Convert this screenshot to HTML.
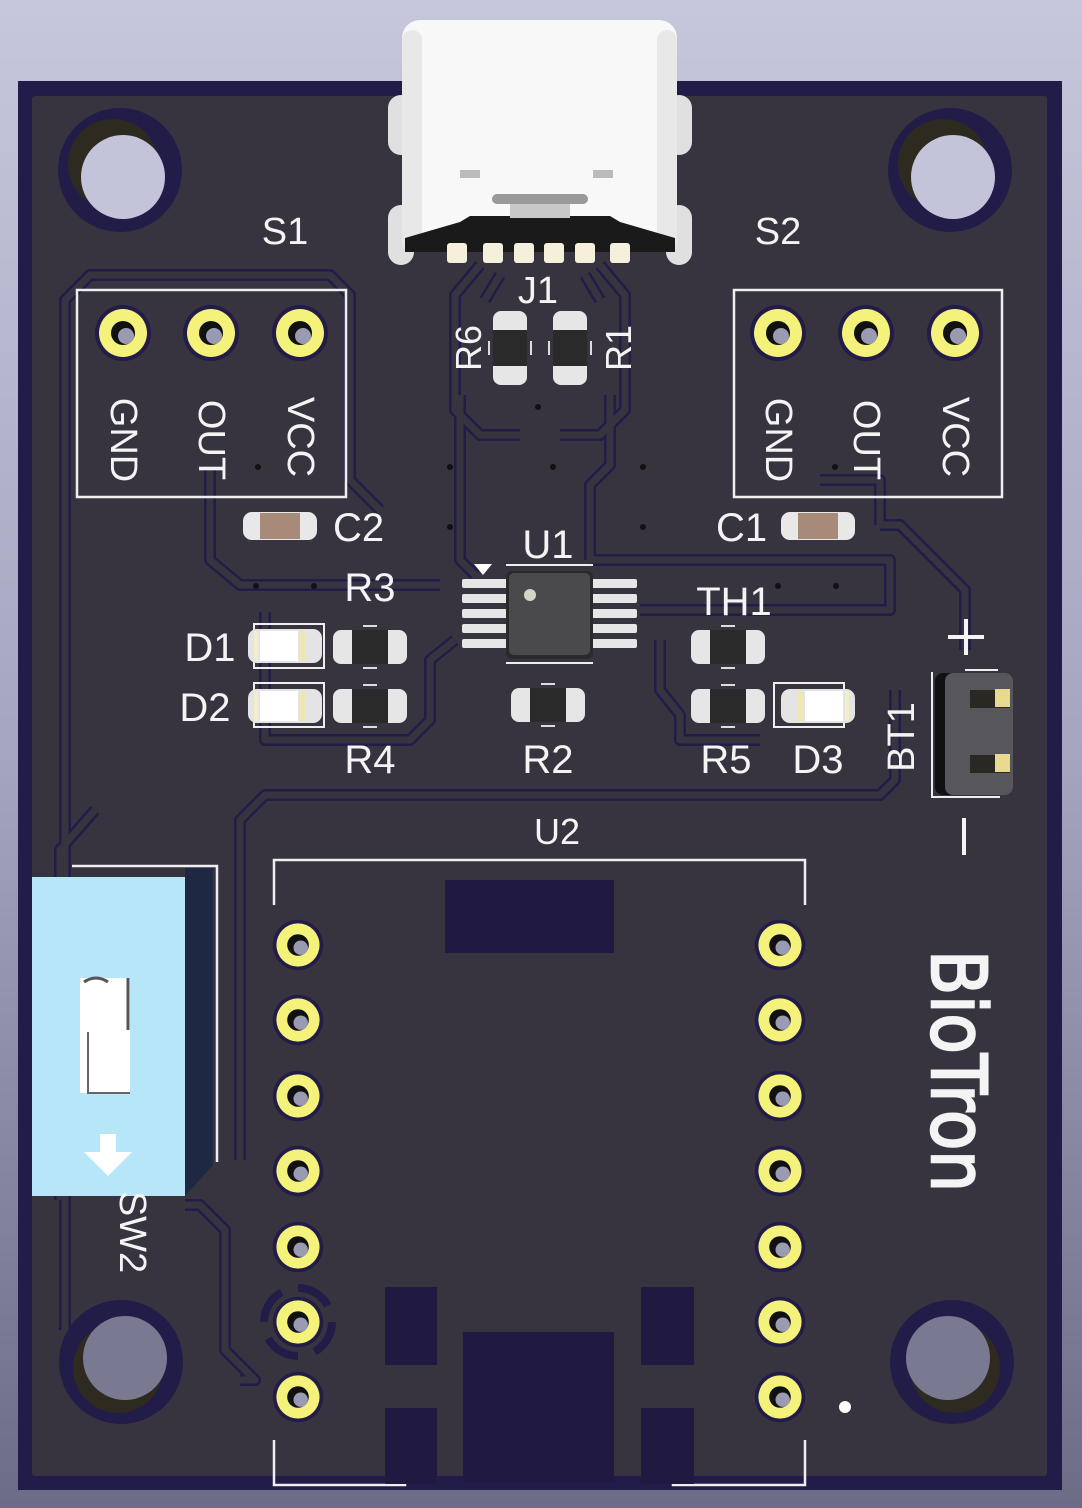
<!DOCTYPE html>
<html><head><meta charset="utf-8"><style>
html,body{margin:0;padding:0;width:1082px;height:1508px;overflow:hidden}
svg{display:block}
text{font-family:"Liberation Sans","DejaVu Sans",sans-serif;fill:#f4f4f4}
</style></head><body>
<svg width="1082" height="1508" viewBox="0 0 1082 1508" xmlns="http://www.w3.org/2000/svg">
<defs>
<linearGradient id="bg" x1="0" y1="0" x2="0" y2="1">
<stop offset="0" stop-color="#c6c6dc"/><stop offset="0.5" stop-color="#a5a5c0"/><stop offset="1" stop-color="#6c6c86"/>
</linearGradient>
<g id="res">
<rect x="-37" y="-17" width="74" height="34" rx="8" fill="#e6e6e6"/>
<rect x="-18" y="-17" width="36" height="34" fill="#2a2a2a"/>
<line x1="-7" y1="-21" x2="7" y2="-21" stroke="#ddd" stroke-width="2"/>
<line x1="-7" y1="21" x2="7" y2="21" stroke="#ddd" stroke-width="2"/>
</g>
<g id="cap">
<rect x="-37" y="-14" width="74" height="28" rx="9" fill="#e8e8e8"/>
<rect x="-20" y="-13" width="40" height="26" fill="#a88a78"/>
</g>
<g id="led">
<rect x="-37" y="-17" width="74" height="34" rx="9" fill="#e4e4e4"/>
<rect x="-25" y="-15" width="38" height="30" fill="#ffffff"/>
<rect x="-31" y="-15" width="4" height="30" fill="#f2efc8"/>
<rect x="14" y="-15" width="6" height="30" fill="#efe7b0"/>
</g>
<g id="th">
<circle r="28" fill="#221c48"/>
<circle r="24" fill="#f4f27a"/>
<circle r="12" fill="#111"/>
<circle cx="3" cy="3" r="8" fill="#9a9ab2"/>
</g>
</defs>
<rect width="1082" height="1508" fill="url(#bg)"/>
<rect x="18" y="81" width="1044" height="1409" fill="#221c48"/>
<rect x="32" y="96" width="1015" height="1380" rx="3" fill="#37343f"/>
<g fill="none" stroke-linejoin="round">
<g stroke="#221c48" stroke-width="12">
<path d="M65 1330 V300 L90 275 H330 L350 295 V480 L380 510"/>
<path d="M240 1380 H255 L225 1350 V1230 L200 1205 H185"/>
<path d="M240 1160 V820 L265 795 H880 L895 780 V690"/>
<path d="M210 470 V560 L240 585 H440"/>
<path d="M265 612 V740 H410 L430 720 V660 L455 640"/>
<path d="M460 395 V560 L475 575"/>
<path d="M610 395 V465 L590 485 V560"/>
<path d="M880 525 H900 L965 590 V650"/>
<path d="M590 560 H890 V610 H640"/>
<path d="M660 640 V690 L680 715 V740 H760"/>
<path d="M480 265 L455 295 V410 L480 435 H520"/>
<path d="M600 265 L625 295 V410 L600 435 H560"/>
<path d="M500 275 L485 300 M585 275 L600 300"/>
<path d="M820 480 H880 V525"/>
<path d="M60 1200 V850 L95 810"/>
</g>
<g stroke="#37343f" stroke-width="7">
<path d="M65 1330 V300 L90 275 H330 L350 295 V480 L380 510"/>
<path d="M240 1380 H255 L225 1350 V1230 L200 1205 H185"/>
<path d="M240 1160 V820 L265 795 H880 L895 780 V690"/>
<path d="M210 470 V560 L240 585 H440"/>
<path d="M265 612 V740 H410 L430 720 V660 L455 640"/>
<path d="M460 395 V560 L475 575"/>
<path d="M610 395 V465 L590 485 V560"/>
<path d="M880 525 H900 L965 590 V650"/>
<path d="M590 560 H890 V610 H640"/>
<path d="M660 640 V690 L680 715 V740 H760"/>
<path d="M480 265 L455 295 V410 L480 435 H520"/>
<path d="M600 265 L625 295 V410 L600 435 H560"/>
<path d="M500 275 L485 300 M585 275 L600 300"/>
<path d="M820 480 H880 V525"/>
<path d="M60 1200 V850 L95 810"/>
</g>
</g>
<g>
<circle cx="120" cy="170" r="62" fill="#221c48"/><circle cx="113" cy="164" r="45" fill="#2e2a20"/><circle cx="123" cy="177" r="42" fill="#c3c3da"/>
<circle cx="950" cy="170" r="62" fill="#221c48"/><circle cx="943" cy="164" r="45" fill="#2e2a20"/><circle cx="953" cy="177" r="42" fill="#c3c3da"/>
<circle cx="121" cy="1362" r="62" fill="#221c48"/><circle cx="118" cy="1368" r="45" fill="#2e2a20"/><circle cx="125" cy="1358" r="42" fill="#797991"/>
<circle cx="952" cy="1362" r="62" fill="#221c48"/><circle cx="955" cy="1368" r="45" fill="#2e2a20"/><circle cx="948" cy="1358" r="42" fill="#797991"/>
</g>
<g>
<rect x="388" y="95" width="26" height="60" rx="13" fill="#e0e0e0"/><rect x="666" y="95" width="26" height="60" rx="13" fill="#e0e0e0"/>
<rect x="388" y="205" width="26" height="60" rx="13" fill="#e0e0e0"/><rect x="666" y="205" width="26" height="60" rx="13" fill="#e0e0e0"/>
<rect x="402" y="20" width="275" height="232" rx="18" fill="#f8f8f8"/>
<rect x="402" y="30" width="20" height="222" rx="10" fill="#e8e8e8"/>
<rect x="657" y="30" width="20" height="222" rx="10" fill="#e8e8e8"/>
<path d="M405 238 L460 222 L470 216 H610 L620 222 L675 238 V252 H405 Z" fill="#1a1a1a"/>
<rect x="492" y="194" width="96" height="10" rx="5" fill="#999"/>
<rect x="510" y="204" width="60" height="14" fill="#c8c8c8"/>
<rect x="460" y="170" width="20" height="8" fill="#bbb"/><rect x="593" y="170" width="20" height="8" fill="#bbb"/>
<g fill="#f4f0dc">
<rect x="447" y="243" width="20" height="20" rx="3"/><rect x="483" y="243" width="20" height="20" rx="3"/>
<rect x="514" y="243" width="20" height="20" rx="3"/><rect x="544" y="243" width="20" height="20" rx="3"/>
<rect x="575" y="243" width="20" height="20" rx="3"/><rect x="610" y="243" width="20" height="20" rx="3"/>
</g>
</g>
<text x="538" y="303" font-size="38" text-anchor="middle">J1</text>
<use href="#res" transform="translate(510,348) rotate(90)"/>
<use href="#res" transform="translate(570,348) rotate(90)"/>
<text transform="translate(481,348) rotate(-90)" font-size="36" text-anchor="middle">R6</text>
<text transform="translate(631,348) rotate(-90)" font-size="36" text-anchor="middle">R1</text>
<text x="285" y="244" font-size="38" text-anchor="middle">S1</text>
<text x="778" y="244" font-size="38" text-anchor="middle">S2</text>
<rect x="77" y="290" width="269" height="207" fill="none" stroke="#eee" stroke-width="2.5"/>
<rect x="734" y="290" width="268" height="207" fill="none" stroke="#eee" stroke-width="2.5"/>
<use href="#th" transform="translate(123,333)"/><use href="#th" transform="translate(211,333)"/><use href="#th" transform="translate(300,333)"/>
<use href="#th" transform="translate(778,333)"/><use href="#th" transform="translate(866,333)"/><use href="#th" transform="translate(955,333)"/>
<g font-size="38">
<text transform="translate(111,440) rotate(90)" text-anchor="middle">GND</text>
<text transform="translate(199,440) rotate(90)" text-anchor="middle">OUT</text>
<text transform="translate(288,437) rotate(90)" text-anchor="middle">VCC</text>
<text transform="translate(766,440) rotate(90)" text-anchor="middle">GND</text>
<text transform="translate(854,440) rotate(90)" text-anchor="middle">OUT</text>
<text transform="translate(943,437) rotate(90)" text-anchor="middle">VCC</text>
</g>
<g fill="#111">
<circle cx="258" cy="467" r="3"/><circle cx="450" cy="467" r="3"/><circle cx="553" cy="467" r="3"/><circle cx="643" cy="467" r="3"/><circle cx="835" cy="467" r="3"/>
<circle cx="450" cy="527" r="3"/><circle cx="643" cy="527" r="3"/><circle cx="538" cy="407" r="3"/>
<circle cx="256" cy="586" r="3"/><circle cx="314" cy="586" r="3"/><circle cx="778" cy="586" r="3"/><circle cx="836" cy="586" r="3"/>
</g>
<use href="#cap" transform="translate(280,526)"/>
<use href="#cap" transform="translate(818,526)"/>
<text x="333" y="541" font-size="40">C2</text>
<text x="716" y="541" font-size="40">C1</text>
<text x="548" y="558" font-size="40" text-anchor="middle">U1</text>
<path d="M474 564 H492 L483 575 Z" fill="#fff"/>
<line x1="506" y1="565" x2="593" y2="565" stroke="#eee" stroke-width="2"/>
<line x1="506" y1="663" x2="593" y2="663" stroke="#eee" stroke-width="2"/>
<g fill="#e6e6e6">
<rect x="462" y="579" width="46" height="9" rx="2"/><rect x="462" y="594" width="46" height="9" rx="2"/><rect x="462" y="609" width="46" height="9" rx="2"/><rect x="462" y="624" width="46" height="9" rx="2"/><rect x="462" y="639" width="46" height="9" rx="2"/>
<rect x="591" y="579" width="46" height="9" rx="2"/><rect x="591" y="594" width="46" height="9" rx="2"/><rect x="591" y="609" width="46" height="9" rx="2"/><rect x="591" y="624" width="46" height="9" rx="2"/><rect x="591" y="639" width="46" height="9" rx="2"/>
</g>
<rect x="506" y="571" width="87" height="88" rx="6" fill="#2a2a2a"/>
<rect x="509" y="573" width="81" height="82" rx="5" fill="#4a4a4c"/>
<circle cx="530" cy="595" r="6" fill="#d8d4c4"/>
<use href="#res" transform="translate(370,647)"/>
<use href="#res" transform="translate(370,706)"/>
<use href="#res" transform="translate(548,705)"/>
<use href="#res" transform="translate(728,647)"/>
<use href="#res" transform="translate(728,706)"/>
<rect x="254" y="624" width="70" height="44" fill="none" stroke="#eee" stroke-width="2"/>
<rect x="254" y="683" width="70" height="44" fill="none" stroke="#eee" stroke-width="2"/>
<rect x="774" y="683" width="70" height="44" fill="none" stroke="#eee" stroke-width="2"/>
<use href="#led" transform="translate(285,646)"/>
<use href="#led" transform="translate(285,706)"/>
<use href="#led" transform="translate(818,706) scale(-1,1)"/>
<g font-size="40">
<text x="370" y="601" text-anchor="middle">R3</text>
<text x="734" y="615" text-anchor="middle">TH1</text>
<text x="210" y="661" text-anchor="middle">D1</text>
<text x="205" y="721" text-anchor="middle">D2</text>
<text x="370" y="773" text-anchor="middle">R4</text>
<text x="548" y="773" text-anchor="middle">R2</text>
<text x="726" y="773" text-anchor="middle">R5</text>
<text x="818" y="773" text-anchor="middle">D3</text>
</g>
<text transform="translate(914,737) rotate(-90)" font-size="38" text-anchor="middle">BT1</text>
<path d="M932 672 V797 H1000" fill="none" stroke="#eee" stroke-width="2"/>
<line x1="965" y1="670" x2="998" y2="670" stroke="#eee" stroke-width="2"/>
<rect x="935" y="673" width="78" height="122" rx="8" fill="#111"/>
<rect x="945" y="673" width="68" height="122" rx="8" fill="#57565a"/>
<rect x="970" y="690" width="40" height="18" fill="#2a2822"/>
<rect x="995" y="689" width="15" height="18" fill="#e8d890"/>
<rect x="970" y="755" width="40" height="18" fill="#2a2822"/>
<rect x="995" y="754" width="15" height="18" fill="#e8d890"/>
<path d="M948 637 H984 M966 619 V655" stroke="#f4f4f4" stroke-width="4"/>
<path d="M964 818 V855" stroke="#f4f4f4" stroke-width="4"/>
<text x="557" y="844" font-size="36" text-anchor="middle">U2</text>
<path d="M274 905 V860 H805 V905" fill="none" stroke="#eee" stroke-width="2.5"/>
<path d="M274 1440 V1485 H405 V1478" fill="none" stroke="#eee" stroke-width="2.5"/>
<path d="M805 1440 V1485 H673 V1478" fill="none" stroke="#eee" stroke-width="2.5"/>
<rect x="445" y="880" width="169" height="73" fill="#201a42"/>
<g fill="#201a42">
<rect x="385" y="1287" width="52" height="78"/>
<rect x="641" y="1287" width="53" height="78"/>
<rect x="463" y="1332" width="151" height="150"/>
<rect x="385" y="1408" width="52" height="76"/>
<rect x="641" y="1408" width="53" height="76"/>
</g>
<g>
<use href="#th" transform="translate(298,945) scale(0.9)"/><use href="#th" transform="translate(298,1020) scale(0.9)"/><use href="#th" transform="translate(298,1096) scale(0.9)"/><use href="#th" transform="translate(298,1171) scale(0.9)"/><use href="#th" transform="translate(298,1247) scale(0.9)"/>
<circle cx="298" cy="1322" r="34" fill="none" stroke="#221c48" stroke-width="8" stroke-dasharray="36 17.4"/>
<use href="#th" transform="translate(298,1322) scale(0.9)"/><use href="#th" transform="translate(298,1397) scale(0.9)"/>
<use href="#th" transform="translate(780,945) scale(0.9)"/><use href="#th" transform="translate(780,1020) scale(0.9)"/><use href="#th" transform="translate(780,1096) scale(0.9)"/><use href="#th" transform="translate(780,1171) scale(0.9)"/><use href="#th" transform="translate(780,1247) scale(0.9)"/><use href="#th" transform="translate(780,1322) scale(0.9)"/><use href="#th" transform="translate(780,1397) scale(0.9)"/>
</g>
<circle cx="845" cy="1407" r="6" fill="#fff"/>
<text transform="translate(932,1071) rotate(90)" font-size="76" text-anchor="middle" textLength="242" lengthAdjust="spacingAndGlyphs" stroke="#f4f4f4" stroke-width="2.5" style="font-family:'DejaVu Sans','Liberation Sans',sans-serif">BioTron</text>
<path d="M72 866 H217 V1162" fill="none" stroke="#eee" stroke-width="2.5"/>
<path d="M185 868 H213 V1165 L185 1196 Z" fill="#1e2842"/>
<rect x="32" y="877" width="153" height="319" fill="#b6e6f7"/>
<rect x="80" y="978" width="50" height="115" fill="#fff"/>
<line x1="128" y1="978" x2="128" y2="1030" stroke="#555" stroke-width="3"/>
<path d="M84 982 Q96 974 108 982" stroke="#555" stroke-width="3" fill="none"/>
<path d="M88 1032 V1093 H130" stroke="#666" stroke-width="2" fill="none"/>
<path d="M100 1134 H116 V1152 H132 L108 1176 L84 1152 H100 Z" fill="#fff"/>
<text transform="translate(120,1232) rotate(90)" font-size="38" text-anchor="middle">SW2</text>
</svg>
</body></html>
